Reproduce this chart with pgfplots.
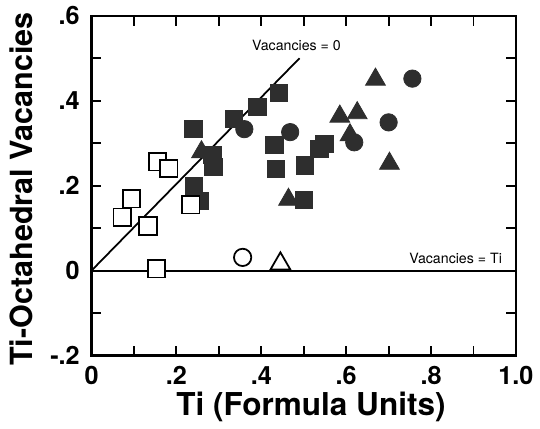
\documentclass[border=0pt]{standalone}
\usepackage{fontspec}
\setmainfont{TeX Gyre Heros}
\usepackage{pgfplots}
\pgfplotsset{compat=1.18}
\begin{document}
\begin{tikzpicture}
\begin{axis}[
  name=ax,
  scale only axis,
  width=215.5pt, height=172.5pt,
  xmin=0, xmax=1.0, ymin=-0.2, ymax=0.6,
  xtick={0,0.2,0.4,0.6,0.8,1.0},
  xticklabels={0,.2,.4,.6,.8,1.0},
  ytick={-0.2,0,0.2,0.4,0.6},
  yticklabels={-.2,0,.2,.4,.6},
  minor xtick={0.1,0.3,0.5,0.7,0.9},
  minor ytick={-0.1,0.1,0.3,0.5},
  tick align=inside,
  major tick length=5pt, minor tick length=5pt,
  every tick/.style={line width=1pt, black},
  axis line style={line width=1.3pt},
  /pgf/number format/assume math mode=true,
  tick label style={font=\bfseries\fontsize{12.8}{14}\selectfont},
  xticklabel style={yshift=-2pt},
  yticklabel style={xshift=-2.5pt},
  xlabel={Ti (Formula Units)},
  ylabel={Ti-Octahedral Vacancies},
  label style={font=\bfseries\fontsize{16}{18}\selectfont},
  xlabel style={at={(axis description cs:0.517,-0.178)}, anchor=base},
  ylabel style={at={(axis description cs:-0.165,0.49)}, anchor=center, font=\bfseries\fontsize{15.5}{18}\selectfont},
  clip=false,
]
% reference lines
\addplot[black, line width=1pt] coordinates {(0,0) (1.0,0)};
\addplot[black, line width=0.9pt] coordinates {(0,0) (0.49,0.50)};
% filled squares
\addplot[only marks, mark=square*, mark size=4.4pt, mark options={fill=black!82, draw=black!82}] coordinates {
(0.256,0.164) (0.241,0.200) (0.240,0.333) (0.285,0.273) (0.287,0.244)
(0.336,0.357) (0.391,0.386) (0.441,0.419) (0.431,0.296) (0.435,0.240)
(0.503,0.248) (0.501,0.167) (0.537,0.287) (0.549,0.298)
};
% filled circles
\addplot[only marks, mark=*, mark size=4.4pt, mark options={fill=black!82, draw=black!82}] coordinates {
(0.360,0.333) (0.468,0.326) (0.619,0.302) (0.700,0.349) (0.756,0.452)
};
% filled triangles
\addplot[only marks, mark=triangle*, mark size=5.8pt, mark options={fill=black!82, draw=black!82}] coordinates {
(0.259,0.279) (0.464,0.167) (0.585,0.363) (0.626,0.371) (0.669,0.450)
(0.702,0.252) (0.609,0.319)
};
% open squares
\addplot[only marks, mark=square*, mark size=4.4pt, mark options={fill=white, draw=black, line width=0.9pt}] coordinates {
(0.155,0.256) (0.182,0.240) (0.094,0.169) (0.072,0.126) (0.133,0.105)
(0.234,0.155) (0.153,0.004)
};
% open circle
\addplot[only marks, mark=*, mark size=4.4pt, mark options={fill=white, draw=black, line width=0.9pt}] coordinates {(0.356,0.031)};
% open triangle
\addplot[only marks, mark=triangle*, mark size=5.8pt, mark options={fill=white, draw=black, line width=0.9pt}] coordinates {(0.445,0.016)};
\node[font=\fontsize{7.2}{8}\selectfont] at (axis cs:0.483,0.531) {Vacancies = 0};
\node[font=\fontsize{7.2}{8}\selectfont] at (axis cs:0.858,0.028) {Vacancies = Ti};
\end{axis}
\path ([shift={(-46.5pt,-35.5pt)}]ax.south west) rectangle ([shift={(8pt,7.5pt)}]ax.north east);
\end{tikzpicture}
\end{document}
